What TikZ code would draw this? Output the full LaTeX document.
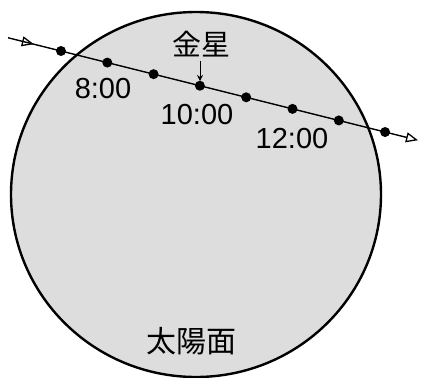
\documentclass[tikz,border=0pt]{standalone}
\usepackage{fontspec}
\setmainfont{Liberation Sans}
\newfontfamily\jpfont{Noto Sans CJK JP}
\usetikzlibrary{arrows.meta,decorations.markings}
\definecolor{sunfill}{RGB}{221,221,221}
\tikzset{
  dot/.style={circle,fill=black,inner sep=0pt,minimum size=10pt},
  lbl/.style={font=\fontsize{29}{30}\selectfont,inner sep=0pt},
  jlbl/.style={font=\fontsize{29}{30}\selectfont\jpfont,inner sep=0pt},
  opentip/.style={-{Triangle[open,length=12pt,width=10pt,line width=1.3pt]}},
}
\begin{document}
\begin{tikzpicture}[x=1pt,y=-1pt]
\useasboundingbox (0,0) rectangle (421,378);
\draw[line width=2.4pt,fill=sunfill] (196,194.5) ellipse [x radius=185, y radius=182.5];
\coordinate (s) at (8,37.75);
\coordinate (e) at (418,140.25);
\draw[line width=1.4pt,opentip,
  postaction={decorate},
  decoration={markings,mark=at position 0.063 with {\arrow[line width=1.3pt]{Triangle[open,length=12pt,width=10pt]}}}]
  (s) -- (e);
\foreach \i in {0,...,7}{
  \node[dot] (d\i) at ({61+46.3*\i},{51+46.3*\i*0.25}) {};
}
\node[lbl] (t8) at (103,89) {8:00};
\node[lbl] (t10) at (197,115) {10:00};
\node[lbl] (t12) at (292,139) {12:00};
\node[jlbl] (venus) at (201,44) {金星};
\coordinate (va) at (200,81);
\draw[line width=1pt,-{Stealth[length=6pt,width=6pt]}] (200,61) -- (va);
\node[jlbl,font=\fontsize{30}{31}\selectfont\jpfont] (sun) at (191,341) {太陽面};
\end{tikzpicture}
\end{document}
